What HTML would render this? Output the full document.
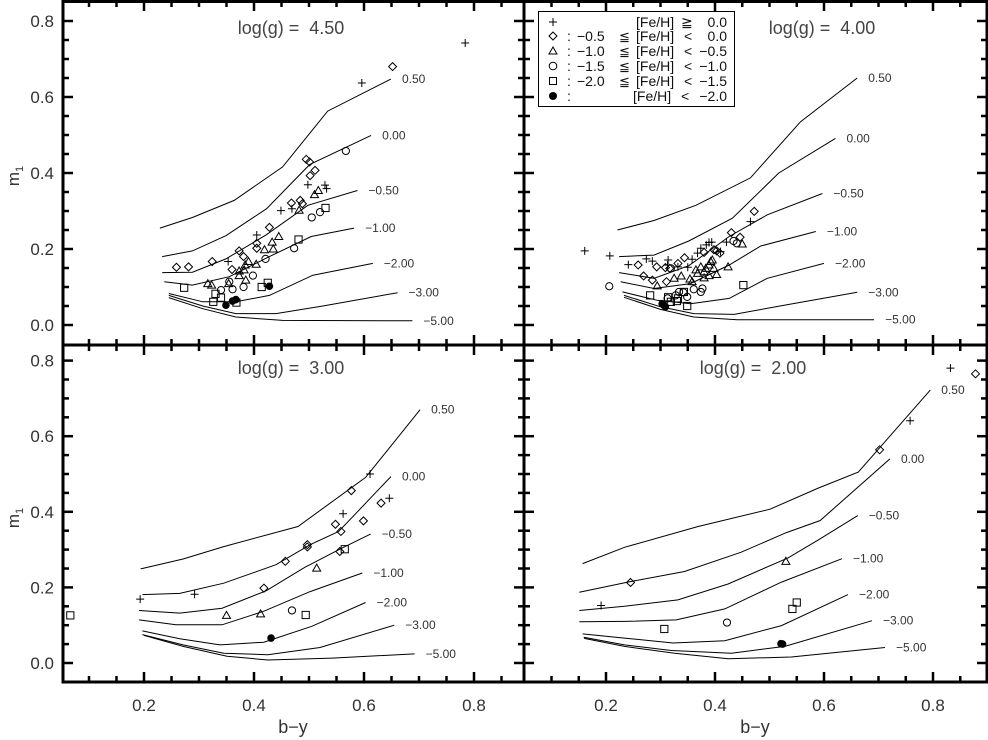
<!DOCTYPE html>
<html><head><meta charset="utf-8">
<style>
html,body{margin:0;padding:0;background:#fff;}
svg{display:block;font-family:"Liberation Sans","DejaVu Sans",sans-serif;}
.pre{white-space:pre;}
</style></head>
<body>
<svg id="chart" width="988" height="740" viewBox="0 0 988 740" xmlns="http://www.w3.org/2000/svg"></svg>
<script>
// ---------- data ----------
const curveLabels = ["0.50","0.00","\u22120.50","\u22121.00","\u22122.00","\u22123.00","\u22125.00"];
const panelTitles = ["log(g) =  4.50","log(g) =  4.00","log(g) =  3.00","log(g) =  2.00"];
const xTickVals = [0.2,0.4,0.6,0.8];
const yTickVals = [0.0,0.2,0.4,0.6,0.8];

const p1CurveX = [
 [0.229,0.288,0.364,0.452,0.534,0.649],
 [0.233,0.288,0.349,0.423,0.501,0.613],
 [0.233,0.288,0.349,0.422,0.498,0.588],
 [0.237,0.288,0.355,0.428,0.504,0.582],
 [0.245,0.307,0.367,0.428,0.507,0.616],
 [0.245,0.307,0.367,0.440,0.525,0.661],
 [0.245,0.307,0.367,0.452,0.688]];
const p1CurveY = [
 [0.255,0.283,0.328,0.416,0.563,0.647],
 [0.180,0.195,0.235,0.306,0.422,0.499],
 [0.138,0.139,0.174,0.237,0.315,0.354],
 [0.114,0.105,0.127,0.180,0.233,0.255],
 [0.083,0.061,0.061,0.078,0.131,0.162],
 [0.078,0.050,0.030,0.030,0.050,0.085],
 [0.072,0.043,0.021,0.012,0.011]];
const p2CurveX = [
 [0.221,0.288,0.365,0.465,0.557,0.661],
 [0.224,0.288,0.352,0.432,0.517,0.621],
 [0.224,0.288,0.352,0.426,0.496,0.597],
 [0.227,0.288,0.355,0.426,0.484,0.585],
 [0.230,0.294,0.355,0.426,0.496,0.600],
 [0.233,0.300,0.361,0.435,0.527,0.661],
 [0.233,0.300,0.361,0.441,0.692]];
const p2CurveY = [
 [0.250,0.275,0.315,0.387,0.535,0.650],
 [0.180,0.184,0.221,0.281,0.400,0.491],
 [0.138,0.123,0.156,0.233,0.290,0.346],
 [0.114,0.096,0.109,0.158,0.208,0.246],
 [0.087,0.065,0.056,0.070,0.123,0.162],
 [0.078,0.048,0.030,0.028,0.052,0.086],
 [0.073,0.041,0.021,0.014,0.014]];
const p3CurveX = [
 [0.194,0.271,0.345,0.480,0.603,0.702],
 [0.197,0.265,0.345,0.440,0.502,0.554,0.649],
 [0.191,0.265,0.342,0.422,0.492,0.560,0.612],
 [0.191,0.258,0.342,0.418,0.502,0.597],
 [0.197,0.265,0.338,0.418,0.505,0.603],
 [0.197,0.271,0.345,0.425,0.520,0.655],
 [0.200,0.271,0.351,0.425,0.542,0.692]];
const p3CurveY = [
 [0.249,0.275,0.308,0.361,0.491,0.670],
 [0.181,0.184,0.211,0.260,0.313,0.348,0.493],
 [0.139,0.132,0.145,0.191,0.253,0.304,0.341],
 [0.114,0.101,0.101,0.137,0.189,0.238],
 [0.085,0.064,0.048,0.055,0.097,0.160],
 [0.075,0.048,0.026,0.022,0.041,0.100],
 [0.073,0.044,0.018,0.008,0.013,0.024]];
const p4CurveX = [
 [0.157,0.234,0.369,0.501,0.590,0.663,0.795],
 [0.151,0.240,0.344,0.448,0.531,0.593,0.721],
 [0.151,0.234,0.332,0.424,0.534,0.590,0.662],
 [0.151,0.234,0.329,0.418,0.522,0.633],
 [0.157,0.234,0.323,0.418,0.522,0.644],
 [0.159,0.234,0.320,0.430,0.528,0.688],
 [0.160,0.234,0.326,0.424,0.540,0.712]];
const p4CurveY = [
 [0.263,0.306,0.361,0.407,0.463,0.505,0.722],
 [0.187,0.214,0.242,0.293,0.345,0.377,0.540],
 [0.139,0.150,0.167,0.209,0.278,0.326,0.390],
 [0.109,0.110,0.114,0.143,0.214,0.276],
 [0.077,0.066,0.053,0.059,0.099,0.181],
 [0.068,0.048,0.033,0.026,0.044,0.112],
 [0.065,0.044,0.026,0.011,0.016,0.041]];

const p1PlusX=[0.784,0.596,0.498,0.529,0.532,0.449,0.469,0.405,0.353];
const p1PlusY=[0.742,0.637,0.369,0.368,0.359,0.301,0.306,0.237,0.167];
const p1DiamX=[0.652,0.495,0.501,0.511,0.502,0.468,0.484,0.488,0.428,0.405,0.405,0.373,0.381,0.360,0.324,0.281,0.259];
const p1DiamY=[0.680,0.436,0.429,0.407,0.393,0.321,0.328,0.319,0.257,0.215,0.202,0.195,0.180,0.146,0.167,0.153,0.152];
const p1TriX=[0.445,0.433,0.435,0.419,0.390,0.384,0.382,0.373,0.404,0.373,0.385,0.316,0.323,0.354,0.510,0.517,0.482];
const p1TriY=[0.233,0.218,0.200,0.198,0.167,0.158,0.145,0.142,0.160,0.130,0.118,0.109,0.105,0.109,0.343,0.354,0.302];
const p1CircX=[0.567,0.505,0.520,0.473,0.421,0.398,0.381,0.361,0.340,0.355];
const p1CircY=[0.458,0.283,0.297,0.202,0.174,0.130,0.100,0.094,0.092,0.114];
const p1SqX=[0.530,0.481,0.273,0.414,0.425,0.330,0.340,0.326,0.368];
const p1SqY=[0.308,0.225,0.098,0.100,0.111,0.082,0.072,0.061,0.059];
const p1FillX=[0.428,0.349,0.361,0.367];
const p1FillY=[0.102,0.052,0.063,0.067];

const p2PlusX=[0.161,0.207,0.241,0.274,0.285,0.314,0.313,0.332,0.350,0.358,0.374,0.384,0.389,0.394,0.421,0.465,0.368,0.410];
const p2PlusY=[0.195,0.182,0.159,0.174,0.168,0.171,0.158,0.153,0.152,0.173,0.202,0.211,0.217,0.218,0.218,0.272,0.189,0.193];
const p2DiamX=[0.472,0.430,0.446,0.259,0.293,0.269,0.285,0.311,0.332,0.344,0.380,0.398,0.409,0.403,0.309,0.317];
const p2DiamY=[0.299,0.243,0.231,0.158,0.153,0.129,0.118,0.114,0.162,0.177,0.191,0.198,0.189,0.195,0.151,0.149];
const p2TriX=[0.450,0.424,0.403,0.294,0.325,0.338,0.354,0.365,0.368,0.380,0.383,0.389,0.392,0.380,0.389,0.398,0.358,0.374,0.395];
const p2TriY=[0.213,0.153,0.133,0.103,0.123,0.129,0.121,0.145,0.136,0.140,0.149,0.158,0.167,0.124,0.130,0.149,0.114,0.153,0.171];
const p2CircX=[0.206,0.440,0.434,0.361,0.374,0.349,0.334,0.328,0.313,0.377,0.319,0.342];
const p2CircY=[0.102,0.215,0.221,0.094,0.087,0.074,0.087,0.078,0.070,0.096,0.149,0.086];
const p2SqX=[0.452,0.281,0.349,0.330,0.314,0.319,0.343,0.332];
const p2SqY=[0.105,0.078,0.050,0.063,0.073,0.061,0.087,0.070];
const p2FillX=[0.303,0.309,0.306];
const p2FillY=[0.056,0.048,0.052];

const p3PlusX=[0.193,0.292,0.611,0.562,0.646];
const p3PlusY=[0.169,0.182,0.500,0.395,0.436];
const p3DiamX=[0.577,0.548,0.558,0.599,0.631,0.497,0.497,0.457,0.418,0.556];
const p3DiamY=[0.456,0.367,0.348,0.376,0.423,0.313,0.307,0.269,0.198,0.295];
const p3TriX=[0.514,0.350,0.412];
const p3TriY=[0.251,0.126,0.130];
const p3CircX=[0.469];
const p3CircY=[0.139];
const p3SqX=[0.066,0.565,0.494];
const p3SqY=[0.126,0.301,0.127];
const p3FillX=[0.431];
const p3FillY=[0.066];

const p4PlusX=[0.191,0.758,0.832];
const p4PlusY=[0.152,0.641,0.780];
const p4DiamX=[0.245,0.702,0.878];
const p4DiamY=[0.213,0.564,0.765];
const p4TriX=[0.530];
const p4TriY=[0.269];
const p4CircX=[0.422];
const p4CircY=[0.107];
const p4SqX=[0.307,0.542,0.550];
const p4SqY=[0.090,0.143,0.160];
const p4FillX=[0.521,0.524];
const p4FillY=[0.051,0.050];

// ---------- drawing ----------
const NS="http://www.w3.org/2000/svg";
const svg=document.getElementById('chart');
function mk(tag,attrs,parent){const e=document.createElementNS(NS,tag);for(const k in attrs)e.setAttribute(k,attrs[k]);(parent||svg).appendChild(e);return e;}

const panels=[
 {l:63,r:524,t:1,b:345,x0:34,sx:550,y0:325,sy:380,cx:p1CurveX,cy:p1CurveY,tx:291,ty:34,
  pts:[[p1PlusX,p1PlusY],[p1DiamX,p1DiamY],[p1TriX,p1TriY],[p1CircX,p1CircY],[p1SqX,p1SqY],[p1FillX,p1FillY]]},
 {l:524,r:987,t:1,b:345,x0:497,sx:545,y0:325,sy:380,cx:p2CurveX,cy:p2CurveY,tx:822,ty:34,
  pts:[[p2PlusX,p2PlusY],[p2DiamX,p2DiamY],[p2TriX,p2TriY],[p2CircX,p2CircY],[p2SqX,p2SqY],[p2FillX,p2FillY]]},
 {l:63,r:524,t:345,b:682,x0:34,sx:550,y0:663,sy:378,cx:p3CurveX,cy:p3CurveY,tx:291,ty:374,
  pts:[[p3PlusX,p3PlusY],[p3DiamX,p3DiamY],[p3TriX,p3TriY],[p3CircX,p3CircY],[p3SqX,p3SqY],[p3FillX,p3FillY]]},
 {l:524,r:987,t:345,b:682,x0:497,sx:545,y0:663,sy:378,cx:p4CurveX,cy:p4CurveY,tx:753,ty:374,
  pts:[[p4PlusX,p4PlusY],[p4DiamX,p4DiamY],[p4TriX,p4TriY],[p4CircX,p4CircY],[p4SqX,p4SqY],[p4FillX,p4FillY]]}
];
const markerNames=["marker-plus","marker-diamond","marker-triangle","marker-circle","marker-square","marker-filled-circle"];

function drawMarker(g,kind,x,y){
  let e;
  if(kind===0){e=mk('path',{d:`M${x-4},${y}H${x+4}M${x},${y-4}V${y+4}`,stroke:'#000','stroke-width':1,fill:'none'},g);}
  else if(kind===1){e=mk('path',{d:`M${x},${y-4}L${x+4},${y}L${x},${y+4}L${x-4},${y}Z`,stroke:'#000','stroke-width':1,fill:'none'},g);}
  else if(kind===2){e=mk('path',{d:`M${x},${y-4}L${x+4},${y+3}L${x-4},${y+3}Z`,stroke:'#000','stroke-width':1,fill:'none'},g);}
  else if(kind===3){e=mk('circle',{cx:x,cy:y,r:3.6,stroke:'#000','stroke-width':1,fill:'none'},g);}
  else if(kind===4){e=mk('rect',{x:x-3.6,y:y-3.6,width:7.2,height:7.2,stroke:'#000','stroke-width':1,fill:'none'},g);}
  else {e=mk('circle',{cx:x,cy:y,r:3.8,fill:'#000'},g);}
  return e;
}

panels.forEach((p,pi)=>{
  const X=v=>p.x0+p.sx*v, Y=v=>p.y0-p.sy*v;
  const g=mk('g',{});
  
  
  for(let k=1;k<=17;k++){
    const v=k*0.05; const x=X(v);
    if(x<=p.l+1||x>=p.r-1)continue;
    const len=(k%4===0)?10:6;
    mk('line',{x1:x,y1:p.b,x2:x,y2:p.b-len,stroke:'#000','stroke-width':2.5},g);
    mk('line',{x1:x,y1:p.t,x2:x,y2:p.t+len,stroke:'#000','stroke-width':2.5},g);
  }
  for(let k=-1;k<=17;k++){
    const v=k*0.05; const y=Y(v);
    if(y<=p.t+1||y>=p.b-1)continue;
    const len=(k%4===0)?10:6;
    mk('line',{x1:p.l,y1:y,x2:p.l+len,y2:y,stroke:'#000','stroke-width':2.5},g);
    mk('line',{x1:p.r,y1:y,x2:p.r-len,y2:y,stroke:'#000','stroke-width':2.5},g);
  }
  p.cx.forEach((xs,ci)=>{
    const ys=p.cy[ci];
    const d=xs.map((v,i)=>(i?'L':'M')+X(v).toFixed(1)+','+Y(ys[i]).toFixed(1)).join('');
    const path=mk('path',{d:d,stroke:'#000','stroke-width':1,fill:'none'},g);
    
    
    const lx=X(xs[xs.length-1])+11, ly=Y(ys[ys.length-1])+4;
    const t=mk('text',{x:lx,y:ly,'font-size':12,fill:'#333'},g);
    t.textContent=curveLabels[ci];
    
    
  });
  p.pts.forEach((arr,kind)=>{
    arr[0].forEach((v,i)=>{
      const m=drawMarker(g,kind,X(v),Y(arr[1][i]));
      
      
    });
  });
  const tt=mk('text',{x:p.tx,y:p.ty,'font-size':18,'text-anchor':'middle',fill:'#444','class':'pre'},g);
  tt.textContent=panelTitles[pi];
  
  
  if(p.l===63){
    yTickVals.forEach(v=>{
      const t=mk('text',{x:54,y:Y(v)+6,'font-size':17,'text-anchor':'end',fill:'#333'});
      t.textContent=v.toFixed(1);
      
      
    });
  }
  if(p.b===682){
    xTickVals.forEach(v=>{
      const t=mk('text',{x:X(v),y:711,'font-size':17,'text-anchor':'middle',fill:'#333'});
      t.textContent=v.toFixed(1);
      
      
    });
  }
});
mk('rect',{x:63,y:1.5,width:924,height:680.5,fill:'none',stroke:'#000','stroke-width':3,});
mk('line',{x1:524,y1:0,x2:524,y2:682,stroke:'#000','stroke-width':3,});
mk('line',{x1:63,y1:345,x2:987,y2:345,stroke:'#000','stroke-width':3,});
</script>
<svg style="position:absolute;left:0;top:0" width="988" height="740">
  <g font-family="Liberation Sans, DejaVu Sans, sans-serif" fill="#333">
    <text x="293" y="733" font-size="18" text-anchor="middle">b−y</text>
    <text x="755" y="733" font-size="18" text-anchor="middle">b−y</text>
    <text transform="translate(19,176) rotate(-90)" font-size="17" text-anchor="middle">m<tspan font-size="11" dy="4">1</tspan></text>
    <text transform="translate(19,518) rotate(-90)" font-size="17" text-anchor="middle">m<tspan font-size="11" dy="4">1</tspan></text>
  </g>
  <g font-family="Liberation Sans, DejaVu Sans, sans-serif" font-size="14" fill="#111">
    <rect x="538.5" y="11.5" width="196" height="95" fill="#fff" stroke="#000" stroke-width="1"/>
    <path d="M549,22H557M553,18V26" stroke="#000" fill="none"/>
    <path d="M553,32L557,36L553,40L549,36Z" stroke="#000" fill="none"/>
    <path d="M553,47L557,54L549,54Z" stroke="#000" fill="none"/>
    <circle cx="553" cy="66" r="3.8" stroke="#000" fill="none"/>
    <rect x="549.5" y="77.5" width="7" height="7" stroke="#000" fill="none"/>
    <circle cx="553" cy="96" r="4" fill="#000"/>
    <text x="636" y="27">[Fe/H]</text><text x="681" y="27">≧</text><text x="727" y="27" text-anchor="end">0.0</text>
    <text x="567" y="41">:</text><text x="577" y="41">−0.5</text><text x="619" y="41" font-size="13">≦</text><text x="636" y="41">[Fe/H]</text><text x="684" y="41">&lt;</text><text x="727" y="41" text-anchor="end">0.0</text>
    <text x="567" y="56">:</text><text x="577" y="56">−1.0</text><text x="619" y="56" font-size="13">≦</text><text x="636" y="56">[Fe/H]</text><text x="684" y="56">&lt;</text><text x="727" y="56" text-anchor="end">−0.5</text>
    <text x="567" y="71">:</text><text x="577" y="71">−1.5</text><text x="619" y="71" font-size="13">≦</text><text x="636" y="71">[Fe/H]</text><text x="684" y="71">&lt;</text><text x="727" y="71" text-anchor="end">−1.0</text>
    <text x="567" y="86">:</text><text x="577" y="86">−2.0</text><text x="619" y="86" font-size="13">≦</text><text x="636" y="86">[Fe/H]</text><text x="684" y="86">&lt;</text><text x="727" y="86" text-anchor="end">−1.5</text>
    <text x="567" y="101">:</text><text x="633" y="101">[Fe/H]</text><text x="681" y="101">&lt;</text><text x="727" y="101" text-anchor="end">−2.0</text>
  </g>
</svg>
</body></html>
